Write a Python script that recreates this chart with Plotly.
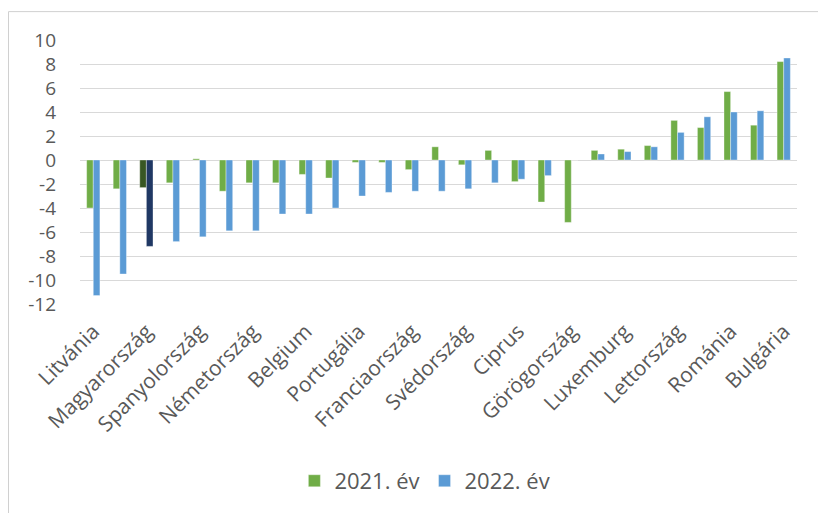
import plotly.graph_objects as go

orszagok = [
    "Litvánia", "Észtország", "Magyarország", "Csehország", "Spanyolország",
    "Lengyelország", "Németország", "Szlovákia", "Belgium", "Hollandia",
    "Portugália", "Ausztria", "Franciaország", "Írország", "Svédország",
    "Dánia", "Ciprus", "Olaszország", "Görögország", "Málta",
    "Luxemburg", "Finnország", "Lettország", "Szlovénia", "Románia",
    "Horvátország", "Bulgária",
]
ev_2021 = [
    -4.0, -2.4, -2.3, -1.9, 0.1, -2.6, -1.9, -1.9, -1.2, -1.5,
    -0.2, -0.2, -0.8, 1.1, -0.4, 0.8, -1.8, -3.5, -5.2, 0.8,
    0.9, 1.2, 3.3, 2.7, 5.7, 2.9, 8.2,
]
ev_2022 = [
    -11.3, -9.5, -7.2, -6.8, -6.4, -5.9, -5.9, -4.5, -4.5, -4.0,
    -3.0, -2.7, -2.6, -2.6, -2.4, -1.9, -1.6, -1.3, 0.0, 0.5,
    0.7, 1.1, 2.3, 3.6, 4.0, 4.1, 8.5,
]
kiemelt = "Magyarország"
y_tick_ertekek = list(range(-12, 11, 2))
y_tick_feliratok = [str(v) for v in y_tick_ertekek]  # sima kötőjeles mínusz, mint az eredetin

# Magyarország oszlopai sötétebb árnyalattal
szin_2021 = ["#385723" if o == kiemelt else "#70AD47" for o in orszagok]
szin_2022 = ["#203864" if o == kiemelt else "#5B9BD5" for o in orszagok]

betu = "Open Sans, Calibri, sans-serif"
szurke = "#595959"

fig = go.Figure()
fig.add_trace(go.Bar(
    x=orszagok, y=ev_2021, name="2021. év",
    marker=dict(color=szin_2021, line=dict(color="rgba(255,255,255,0.6)", width=0.6)),
))
fig.add_trace(go.Bar(
    x=orszagok, y=ev_2022, name="2022. év",
    marker=dict(color=szin_2022, line=dict(color="rgba(255,255,255,0.6)", width=0.6)),
))

# keret: csak a bal és a felső széle esik a képre
fig.add_shape(type="rect", xref="paper", yref="paper",
              x0=-0.0997, y0=-0.83, x1=1.07, y1=1.1075,
              layer="above", line=dict(color="#D0D0D0", width=1),
              fillcolor="rgba(0,0,0,0)")

fig.update_layout(
    width=818, height=505,
    margin=dict(l=72, r=29, t=32, b=208),
    paper_bgcolor="white", plot_bgcolor="white",
    barmode="group", bargap=0.5, bargroupgap=0,
    font=dict(family=betu, color=szurke, size=21),
    legend=dict(orientation="h", x=0.481, xanchor="center", y=-0.664, yanchor="middle",
                font=dict(size=22, color=szurke), itemwidth=30, traceorder="normal"),
    showlegend=True,
)
fig.update_xaxes(
    type="category", tickmode="array",
    tickvals=orszagok[::2], ticktext=orszagok[::2],
    tickangle=-45, tickfont=dict(size=21, color=szurke),
    showgrid=False, showline=False, ticks="",
    ticklabelstandoff=10,
)
fig.update_yaxes(
    range=[-12, 10], tickvals=y_tick_ertekek, ticktext=y_tick_feliratok,
    tickfont=dict(size=19, color=szurke),
    showgrid=True, gridcolor="#D9D9D9", gridwidth=1,
    zeroline=True, zerolinecolor="#D9D9D9", zerolinewidth=1,
    ticklabelstandoff=23,
)

fig.write_html("out.html")
